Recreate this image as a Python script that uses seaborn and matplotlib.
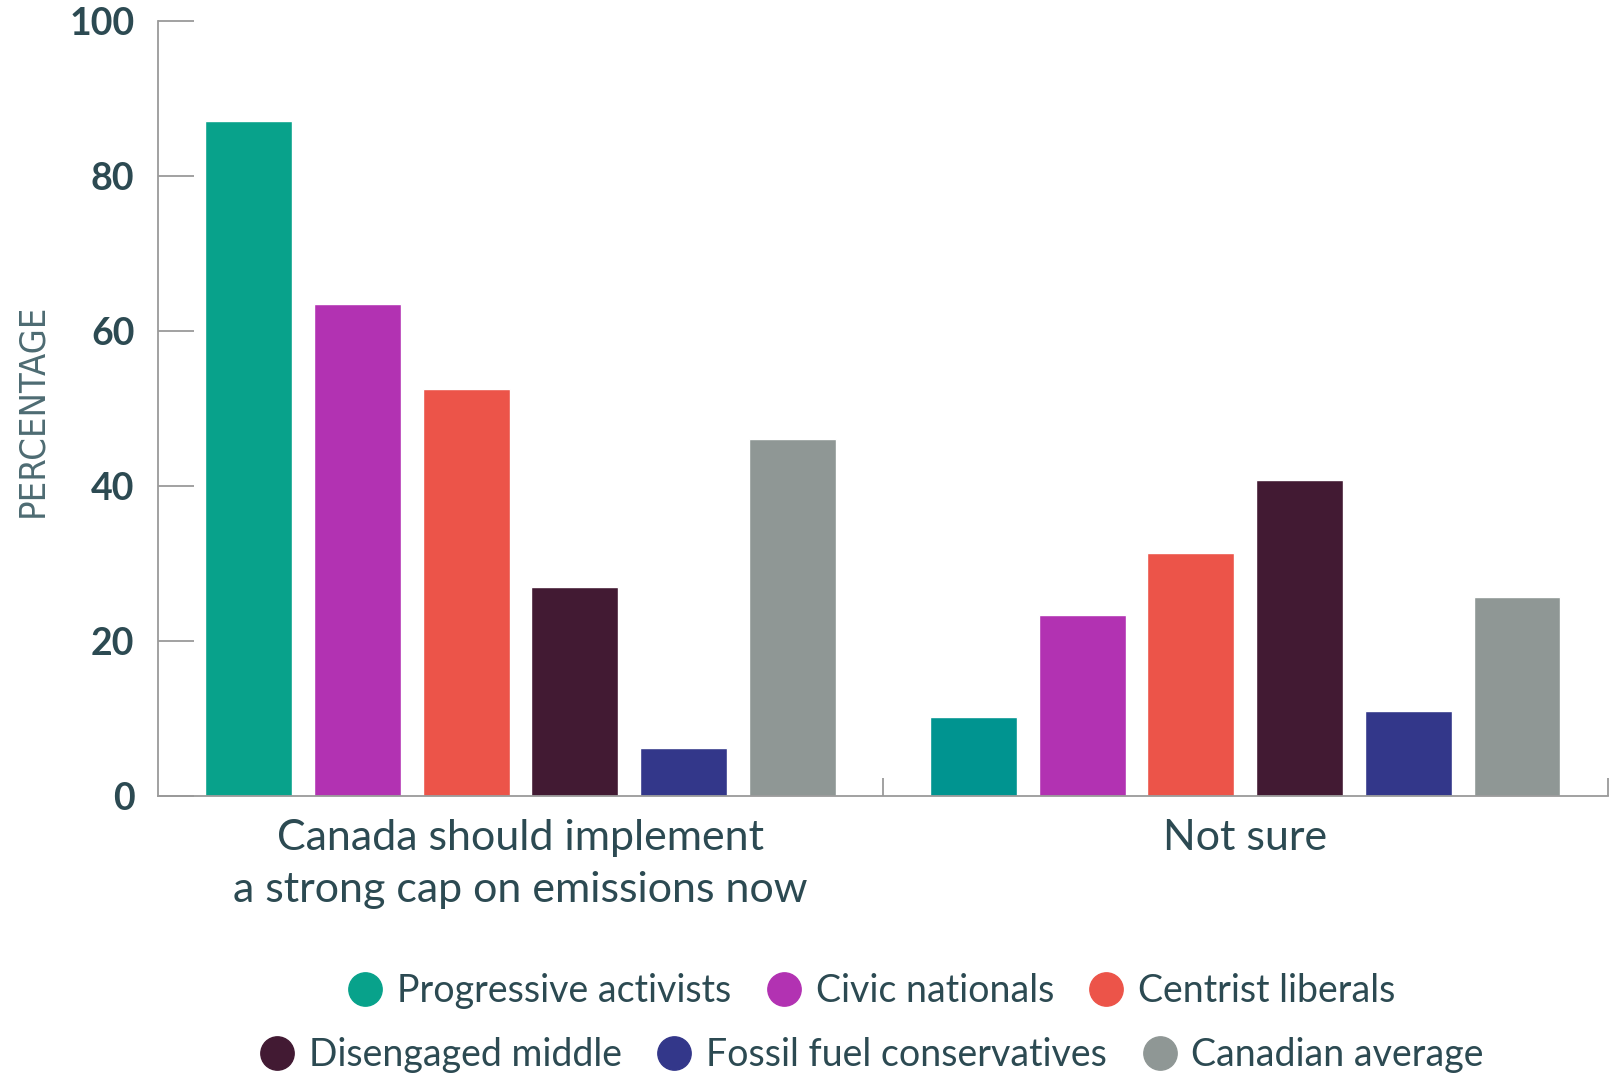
import numpy as np
import pandas as pd
import matplotlib.pyplot as plt
from matplotlib.lines import Line2D
import seaborn as sns

# values
questions = ["Canada should implement\na strong cap on emissions now", "Not sure"]
groups = ["Progressive activists", "Civic nationals", "Centrist liberals",
          "Disengaged middle", "Fossil fuel conservatives", "Canadian average"]
cap_now = [87.1, 63.4, 52.5, 26.9, 6.2, 46.0]
not_sure = [10.1, 23.3, 31.3, 40.7, 10.9, 25.7]
colors = ["#08A28B", "#B232B2", "#EC5449", "#421A33", "#33378A", "#8F9795"]
teal_2 = "#009490"

TEXT = "#2C4A52"
AXIS = "#9A9A9A"

df = pd.DataFrame({
    "question": [questions[0]] * 6 + [questions[1]] * 6,
    "group": groups * 2,
    "value": cap_now + not_sure,
})

sns.set_theme(style="white")
plt.rcParams["font.family"] = ["Lato", "DejaVu Sans"]

fig = plt.figure(figsize=(16.16, 10.73), dpi=100)
ax = fig.add_axes([0.0978, 0.2584, 0.897, 0.7223])

sns.barplot(data=df, x="question", y="value", hue="group", hue_order=groups,
            palette=colors, saturation=1, width=0.9, gap=0.2, legend=False, ax=ax)
# the second teal bar is a touch darker in the source
ax.containers[0][1].set_facecolor(teal_2)

ax.set_xlim(-0.5, 1.5)
ax.set_ylim(0, 100)
ax.set_yticks([0, 20, 40, 60, 80, 100])
ax.tick_params(axis="y", left=True, direction="in", length=26, width=1.3, color=AXIS,
               labelsize=27, labelcolor=TEXT, pad=17)
for t in ax.get_yticklabels():
    t.set_fontweight("bold")

ax.tick_params(axis="x", which="major", bottom=True, length=0, labelsize=31,
               labelcolor=TEXT, pad=17)
ax.set_xticks([0.5, 1.5], minor=True)
ax.tick_params(axis="x", which="minor", bottom=True, direction="in", length=13,
               width=1.3, color=AXIS)
for t in ax.get_xticklabels():
    t.set_linespacing(1.45)

sns.despine(ax=ax)
for s in ["left", "bottom"]:
    ax.spines[s].set_color(AXIS)
    ax.spines[s].set_linewidth(1.3)

ax.set_xlabel("")
ax.set_ylabel("")
fig.text(0.02, 0.618, "PERCENTAGE", rotation=90, ha="center", va="center",
         fontsize=26, color="#4D6B72", family="DejaVu Sans", fontstretch="condensed",
         fontweight="light")

# legend in two centred rows
def make_handles(idx):
    return [Line2D([0], [0], marker="o", linestyle="", markersize=24,
                   markerfacecolor=colors[i], markeredgecolor=colors[i]) for i in idx]

leg_kw = dict(ncol=3, frameon=False, fontsize=27, handlelength=1.0, handletextpad=0.35,
              columnspacing=0.9, labelcolor=TEXT, borderaxespad=0)
leg1 = fig.legend(make_handles([0, 1, 2]), groups[:3], loc="center",
                  bbox_to_anchor=(0.539, 0.076), **leg_kw)
leg2 = fig.legend(make_handles([3, 4, 5]), groups[3:], loc="center",
                  bbox_to_anchor=(0.539, 0.0165), **leg_kw)

fig.savefig("out.png", dpi=100, facecolor="white")
